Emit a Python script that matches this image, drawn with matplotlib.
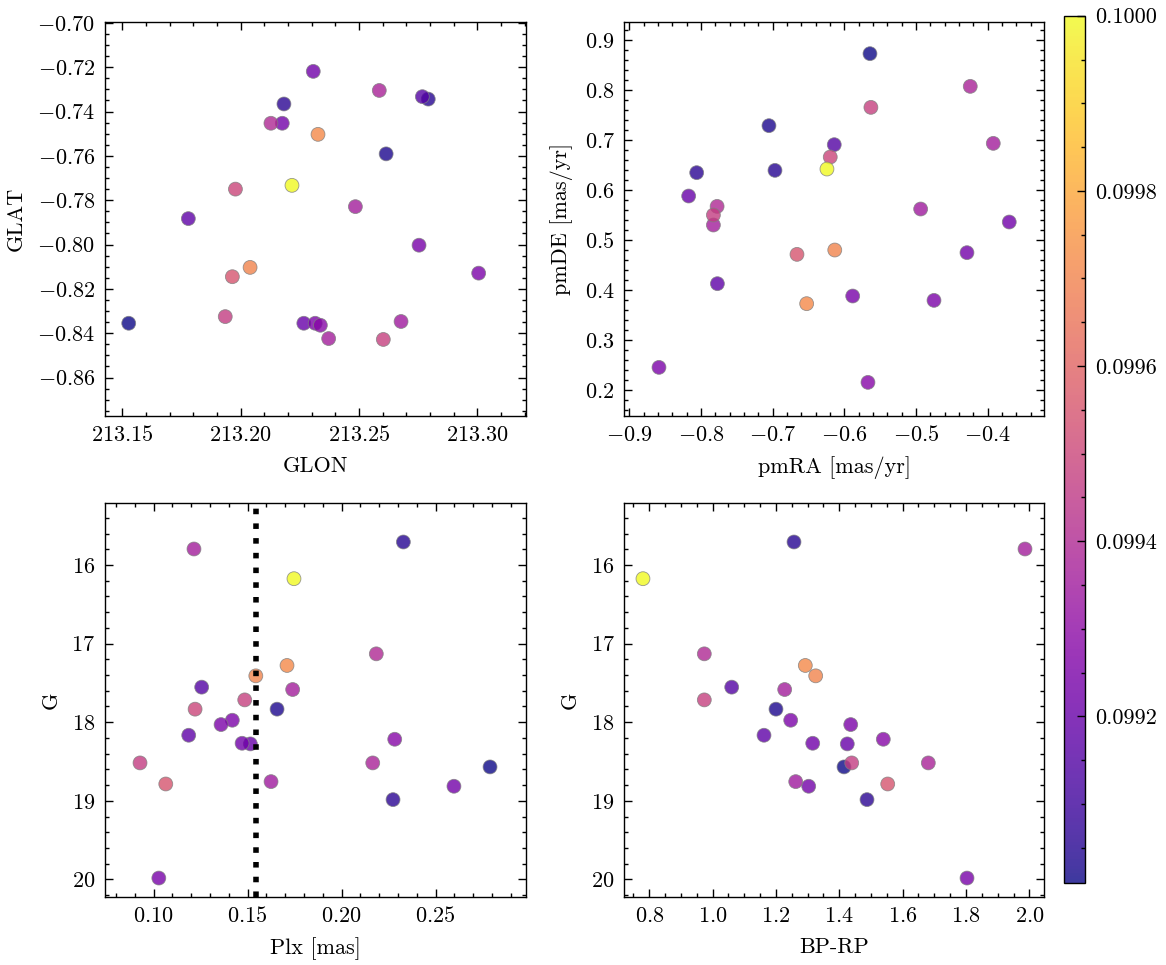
import numpy as np
import matplotlib
matplotlib.use('Agg')
from matplotlib import pyplot as plt
from matplotlib.ticker import MultipleLocator, AutoMinorLocator, FormatStrFormatter

plt.rcParams.update({
    'font.family': 'serif',
    'font.serif': ['cmr10'],
    'mathtext.fontset': 'cm',
    'axes.formatter.use_mathtext': True,
    'font.size': 8,
    'axes.linewidth': 0.5,
    'xtick.direction': 'in',
    'ytick.direction': 'in',
    'xtick.top': True,
    'ytick.right': True,
    'xtick.minor.visible': True,
    'ytick.minor.visible': True,
    'xtick.major.size': 3,
    'ytick.major.size': 3,
    'xtick.minor.size': 1.5,
    'ytick.minor.size': 1.5,
    'xtick.major.width': 0.5,
    'ytick.major.width': 0.5,
    'xtick.minor.width': 0.5,
    'ytick.minor.width': 0.5,
})

# star data (25 stars)
glon = [213.1527, 213.2615, 213.2793, 213.2183, 213.2768, 213.1779, 213.2267, 213.2307,
        213.2176, 213.2754, 213.3006, 213.2315, 213.2337, 213.2678, 213.2485, 213.2372,
        213.2586, 213.2128, 213.1935, 213.2603, 213.1978, 213.1965, 213.2040, 213.2327,
        213.2217]
glat = [-0.8355, -0.7591, -0.7344, -0.7366, -0.7333, -0.7883, -0.8355, -0.7219,
        -0.7453, -0.8003, -0.8129, -0.8355, -0.8364, -0.8347, -0.7829, -0.8424,
        -0.7305, -0.7453, -0.8325, -0.8428, -0.7750, -0.8145, -0.8103, -0.7503,
        -0.7733]
pmra = [-0.5643, -0.7052, -0.6968, -0.8060, -0.6141, -0.7771, -0.8172, -0.3700,
        -0.4290, -0.5884, -0.4750, -0.8586, -0.5671, -0.4936, -0.3923, -0.7827,
        -0.4244, -0.7775, -0.7827, -0.5630, -0.6197, -0.6661, -0.6134, -0.6526,
        -0.6243]
pmde = [0.8727, 0.7287, 0.6393, 0.6347, 0.6907, 0.4127, 0.5880, 0.5360,
        0.4747, 0.3880, 0.3793, 0.2453, 0.2153, 0.5620, 0.6933, 0.5300,
        0.8073, 0.5673, 0.5500, 0.7653, 0.6660, 0.4713, 0.4800, 0.3727,
        0.6420]
plx = [0.2790, 0.1657, 0.2329, 0.2274, 0.1256, 0.1187, 0.1515, 0.1471,
       0.2598, 0.1028, 0.1419, 0.1359, 0.2283, 0.1625, 0.1215, 0.1740,
       0.2166, 0.2185, 0.0928, 0.1485, 0.1221, 0.1065, 0.1544, 0.1710,
       0.1747]
gmag = [18.569, 17.834, 15.707, 18.985, 17.554, 18.166, 18.276, 18.268,
        18.815, 19.983, 17.975, 18.030, 18.217, 18.756, 15.796, 17.584,
        18.518, 17.130, 18.518, 17.716, 17.834, 18.786, 17.410, 17.278,
        16.174]
bprp = [1.4148, 1.2000, 1.2569, 1.4874, 1.0602, 1.1622, 1.4252, 1.3160,
        1.3033, 1.8032, 1.2465, 1.4360, 1.5389, 1.2623, 1.9863, 1.2275,
        1.6810, 0.9737, 1.4391, 0.9737, np.nan, 1.5528, 1.3254, 1.2926,
        0.7800]
cval = [0.09901, 0.09903, 0.09905, 0.09906, 0.09915, 0.09918, 0.09920, 0.09922,
        0.09923, 0.09924, 0.09925, 0.09925, 0.09928, 0.09935, 0.09936, 0.09936,
        0.09938, 0.09940, 0.09947, 0.09948, 0.09950, 0.09955, 0.09970, 0.09972,
        0.10000]

fig = plt.figure(figsize=(5.83, 4.825), dpi=200)
ax1 = fig.add_axes([0.0901, 0.5692, 0.3608, 0.4083])
ax2 = fig.add_axes([0.5354, 0.5692, 0.3600, 0.4083])
ax3 = fig.add_axes([0.0901, 0.0708, 0.3608, 0.4077])
ax4 = fig.add_axes([0.5354, 0.0708, 0.3600, 0.4077])
cax = fig.add_axes([0.9125, 0.0853, 0.0183, 0.8984])

kw = dict(c=cval, cmap='plasma', s=25, alpha=0.8, edgecolors='grey', linewidths=0.3)

# GLON / GLAT
sc = ax1.scatter(glon, glat, **kw)
ax1.set_xlim(213.1427, 213.3205)
ax1.set_ylim(-0.8772, -0.6995)
ax1.xaxis.set_major_locator(MultipleLocator(0.05))
ax1.yaxis.set_major_locator(MultipleLocator(0.02))
ax1.set_xlabel('GLON')
ax1.set_ylabel('GLAT')

# proper motions
ax2.scatter(pmra, pmde, **kw)
ax2.set_xlim(-0.907, -0.3215)
ax2.set_ylim(0.1486, 0.9366)
ax2.xaxis.set_major_locator(MultipleLocator(0.1))
ax2.yaxis.set_major_locator(MultipleLocator(0.1))
ax2.set_xlabel('pmRA [mas/yr]')
ax2.set_ylabel('pmDE [mas/yr]')

# parallax vs G, dotted line at median parallax
ax3.scatter(plx, gmag, **kw)
ax3.axvline(np.median(plx), color='k', ls=':', lw=2)
ax3.set_xlim(0.0742, 0.298)
ax3.set_ylim(20.22, 15.214)
ax3.xaxis.set_major_locator(MultipleLocator(0.05))
ax3.yaxis.set_major_locator(MultipleLocator(1))
ax3.set_xlabel('Plx [mas]')
ax3.set_ylabel('G')

# CMD
ax4.scatter(bprp, gmag, **kw)
ax4.set_xlim(0.721, 2.0464)
ax4.set_ylim(20.22, 15.214)
ax4.xaxis.set_major_locator(MultipleLocator(0.2))
ax4.yaxis.set_major_locator(MultipleLocator(1))
ax4.set_xlabel('BP-RP')
ax4.set_ylabel('G')

for ax in [ax1, ax2, ax3, ax4]:
    ax.xaxis.set_minor_locator(AutoMinorLocator())
    ax.yaxis.set_minor_locator(AutoMinorLocator())

cb = fig.colorbar(sc, cax=cax)
cb.outline.set_linewidth(0.5)
cb.ax.yaxis.set_major_locator(MultipleLocator(0.0002))
cb.ax.yaxis.set_minor_locator(AutoMinorLocator())
cb.ax.yaxis.set_major_formatter(FormatStrFormatter('%.4f'))
cb.ax.tick_params(which='both', direction='in')

plt.savefig('out.png', dpi=200)
